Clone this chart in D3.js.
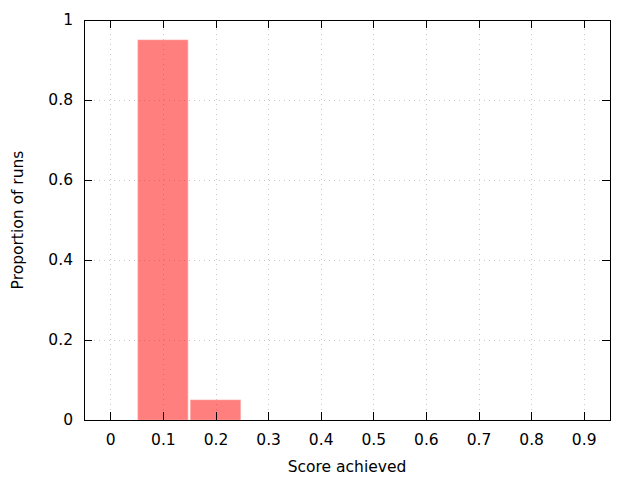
<!DOCTYPE html>
<html>
<head>
<meta charset="utf-8">
<script src="https://cdn.jsdelivr.net/npm/d3@7"></script>
<style>
  body { margin: 0; background: #fff; }
  text { font-family: "DejaVu Sans", sans-serif; font-size: 15.5px; fill: #000; }
</style>
</head>
<body>
<svg id="chart"></svg>
<script>
// histogram data
const scores = [0.1, 0.2];
const proportions = [0.95, 0.05];
const xTicks = [0, 0.1, 0.2, 0.3, 0.4, 0.5, 0.6, 0.7, 0.8, 0.9];
const yTicks = [0, 0.2, 0.4, 0.6, 0.8, 1];

const width = 640, height = 480;
const margin = { top: 20, right: 30, bottom: 60, left: 84 };

const svg = d3.select("#chart").attr("width", width).attr("height", height);

const x = d3.scaleLinear().domain([-0.05, 0.95]).range([margin.left, width - margin.right]);
const y = d3.scaleLinear().domain([0, 1]).range([height - margin.bottom, margin.top]);

// grid
const grid = svg.append("g")
  .attr("stroke", "#c8c8c8")
  .attr("stroke-width", 1)
  .attr("stroke-dasharray", "1,4");
grid.selectAll(".vg").data(xTicks).join("line")
  .attr("class", "vg")
  .attr("x1", d => Math.round(x(d)) + 0.5).attr("x2", d => Math.round(x(d)) + 0.5)
  .attr("y1", y(0)).attr("y2", y(1));
grid.selectAll(".hg").data(yTicks.slice(1, -1)).join("line")
  .attr("class", "hg")
  .attr("x1", x.range()[0]).attr("x2", x.range()[1])
  .attr("y1", d => Math.round(y(d)) + 0.5).attr("y2", d => Math.round(y(d)) + 0.5);

// bars
const bw = x(0.095) - x(0);
svg.append("g").selectAll("rect")
  .data(scores.map((s, i) => ({ s, p: proportions[i] })))
  .join("rect")
  .attr("x", d => x(d.s) - bw / 2)
  .attr("y", d => y(d.p))
  .attr("width", bw)
  .attr("height", d => y(0) - y(d.p))
  .attr("fill", "rgba(255,0,0,0.5)")
  .attr("stroke", "rgba(255,160,160,0.6)")
  .attr("stroke-width", 1);

// axes with mirrored inward ticks
const tick = 8;
const axisG = svg.append("g");
axisG.append("g")
  .attr("transform", `translate(0,${y(0)})`)
  .call(d3.axisBottom(x).tickValues(xTicks).tickSize(-tick).tickPadding(14).tickFormat(d3.format("")))
  .call(g => g.select(".domain").remove());
axisG.append("g")
  .attr("transform", `translate(0,${y(1)})`)
  .call(d3.axisTop(x).tickValues(xTicks).tickSize(-tick).tickFormat(""))
  .call(g => g.select(".domain").remove());
axisG.append("g")
  .attr("transform", `translate(${x.range()[0]},0)`)
  .call(d3.axisLeft(y).tickValues(yTicks).tickSize(-tick).tickPadding(11).tickFormat(d3.format("")))
  .call(g => g.select(".domain").remove());
axisG.append("g")
  .attr("transform", `translate(${x.range()[1]},0)`)
  .call(d3.axisRight(y).tickValues(yTicks).tickSize(-tick).tickFormat(""))
  .call(g => g.select(".domain").remove());
axisG.selectAll("g").attr("font-size", null).attr("font-family", null);
axisG.selectAll("text").attr("fill", "#000");
axisG.selectAll(".tick line").attr("stroke", "#000").attr("shape-rendering", "crispEdges");

// frame
svg.append("rect")
  .attr("x", x.range()[0]).attr("y", y(1))
  .attr("width", x.range()[1] - x.range()[0]).attr("height", y(0) - y(1))
  .attr("fill", "none").attr("stroke", "#000").attr("stroke-width", 1)
  .attr("shape-rendering", "crispEdges");

// labels
svg.append("text")
  .attr("x", (x.range()[0] + x.range()[1]) / 2)
  .attr("y", 472)
  .attr("text-anchor", "middle")
  .text("Score achieved");
svg.append("text")
  .attr("transform", `translate(23,${(y(0) + y(1)) / 2}) rotate(-90)`)
  .attr("text-anchor", "middle")
  .text("Proportion of runs");
</script>
</body>
</html>
